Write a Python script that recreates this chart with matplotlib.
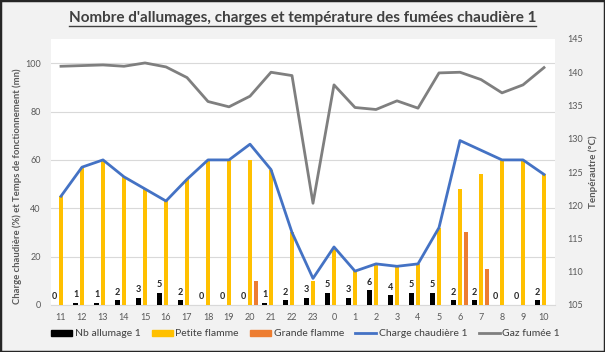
import matplotlib.pyplot as plt
from matplotlib.lines import Line2D
from matplotlib.patches import Rectangle
import numpy as np

plt.rcParams['font.family'] = ['Lato', 'DejaVu Sans']

heures = ["11", "12", "13", "14", "15", "16", "17", "18", "19", "20", "21", "22",
          "23", "0", "1", "2", "3", "4", "5", "6", "7", "8", "9", "10"]
nb_allumage = [0, 1, 1, 2, 3, 5, 2, 0, 0, 0, 1, 2, 3, 5, 3, 6, 4, 5, 5, 2, 2, 0, 0, 2]
petite_flamme = [45, 57, 60, 53, 48, 43, 52, 60, 60, 60, 56, 30,
                 10, 23, 14, 17, 16, 17, 32, 48, 54, 60, 60, 54]
grande_flamme = [0, 0, 0, 0, 0, 0, 0, 0, 0, 10, 0, 0,
                 0, 0, 0, 0, 0, 0, 0, 30, 15, 0, 0, 0]
charge = [45, 57, 60, 53, 48, 43, 52, 60, 60, 66.5, 56, 30,
          11, 24, 14, 17, 16, 17, 32, 68, 64, 60, 60, 54]
gaz_fumee = [140.9, 141.0, 141.1, 140.9, 141.4, 140.8, 139.2, 135.6, 134.8, 136.4, 140.0, 139.5,
             120.3, 138.1, 134.7, 134.4, 135.7, 134.6, 139.9, 140.0, 138.9, 136.9, 138.1, 140.7]

c_noir = "#000000"
c_jaune = "#ffc000"
c_orange = "#ed7d31"
c_bleu = "#4472c4"
c_gris = "#7f7f7f"
c_texte = "#595959"

fig = plt.figure(figsize=(6.05, 3.52), dpi=100, facecolor="#f2f2f2")
ax = fig.add_axes([50.5 / 605, 1 - 305 / 352, 504 / 605, 266 / 352])
ax.set_facecolor("white")
ax2 = ax.twinx()

x = np.arange(len(heures))
w = 0.24
off = 0.3
ax.bar(x - off, nb_allumage, w, color=c_noir, zorder=3)
ax.bar(x, petite_flamme, w * 0.85, color=c_jaune, zorder=3)
ax.bar(x + off, grande_flamme, w * 0.85, color=c_orange, zorder=3)
ax.plot(x, charge, color=c_bleu, lw=2, zorder=4)

for xi, v in zip(x, nb_allumage):
    ax.text(xi - off, v + 1.5, str(v), ha="center", va="bottom", fontsize=6.5,
            fontweight="bold", color="#262626", zorder=5)

ax2.plot(x, gaz_fumee, color=c_gris, lw=2, zorder=4)

ax.set_xlim(-0.5, len(heures) - 0.5)
ax.set_ylim(0, 110)
ax.set_yticks(range(0, 101, 20))
ax2.set_ylim(105, 145)
ax2.set_yticks(range(105, 146, 5))
ax.set_xticks(x)
ax.set_xticklabels(heures)

ax.grid(axis="y", color="#d9d9d9", lw=0.8, zorder=0)
ax.set_axisbelow(True)
for a in (ax, ax2):
    for s in a.spines.values():
        s.set_visible(False)
    a.tick_params(length=0, labelsize=6.5, colors=c_texte)
ax.spines["bottom"].set_visible(True)
ax.spines["bottom"].set_color("#d9d9d9")
ax.tick_params(axis="x", pad=6)
ax.tick_params(axis="y", pad=7)
ax2.tick_params(axis="y", pad=9)

ax.set_ylabel("Charge chaudière (%) et Temps de fonctionnement (mn)", fontsize=6.8,
              fontweight="bold", color=c_texte)
ax.yaxis.set_label_coords(-0.056, 0.447)
ax2.set_ylabel("Tenpérautre (°C)", fontsize=7, fontweight="bold", color=c_texte, labelpad=4)

titre = fig.text(0.5, 1 - 18 / 352, "Nombre d'allumages, charges et température des fumées chaudière 1",
                 ha="center", va="center", fontsize=11, fontweight="bold", color="#404040")
fig.canvas.draw()
bb = titre.get_window_extent().transformed(fig.transFigure.inverted())
fig.add_artist(Line2D([bb.x0, bb.x1], [bb.y0 - 0.004, bb.y0 - 0.004], color="#404040", lw=1))

poignees = [Rectangle((0, 0), 1, 1, color=c_noir), Rectangle((0, 0), 1, 1, color=c_jaune),
            Rectangle((0, 0), 1, 1, color=c_orange), Line2D([], [], color=c_bleu, lw=2),
            Line2D([], [], color=c_gris, lw=2)]
noms = ["Nb allumage 1", "Petite flamme", "Grande flamme", "Charge chaudière 1", "Gaz fumée 1"]
fig.legend(poignees, noms, loc="center", bbox_to_anchor=(0.505, 1 - 334 / 352), ncol=5,
           frameon=False, fontsize=7.5, labelcolor="#404040", handlelength=2.0,
           handleheight=0.6, handletextpad=0.25, columnspacing=1.1)

fig.add_artist(Rectangle((0, 0), 1, 1, transform=fig.transFigure, fill=False,
                         edgecolor="#262626", lw=2.5))

fig.savefig("out.png", dpi=100, facecolor=fig.get_facecolor())
